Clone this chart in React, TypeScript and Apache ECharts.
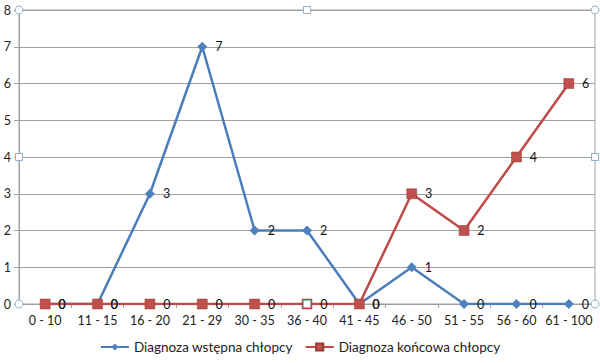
import React, { useEffect, useRef } from "react";
import * as echarts from "echarts";

const categories = ["0 - 10", "11 - 15", "16 - 20", "21 - 29", "30 - 35", "36 - 40", "41 - 45", "46 - 50", "51 - 55", "56 - 60", "61 - 100"];
const wstepna = [0, 0, 3, 7, 2, 2, 0, 1, 0, 0, 0];
const koncowa = [0, 0, 0, 0, 0, 0, 0, 3, 2, 4, 6];
const seriesNames = ["Diagnoza wstępna chłopcy", "Diagnoza końcowa chłopcy"];

const FONT = "Lato, 'Open Sans', sans-serif";

export default function App() {
  const ref = useRef<HTMLDivElement>(null);
  useEffect(() => {
    if (!ref.current) return;
    const chart = echarts.init(ref.current, null, { renderer: "svg" });
    const L = 19, R = 595, T = 10, B = 304;
    const handleStyle = { fill: "#fff", stroke: "#8fb2c4", lineWidth: 1 };
    const circ = (x: number, y: number) => ({ type: "circle", shape: { cx: x, cy: y, r: 4 }, style: handleStyle, z: 100 });
    const sq = (x: number, y: number) => ({ type: "rect", shape: { x: x - 3.5, y: y - 3.5, width: 7, height: 7 }, style: handleStyle, z: 100 });
    const mid = (L + R) / 2, midY = (T + B) / 2;
    chart.setOption({
      animation: false,
      textStyle: { fontFamily: FONT },
      grid: { left: L, right: 600 - R, top: T, bottom: 363 - B, show: true, borderColor: "#a0a0a0", borderWidth: 1, containLabel: false },
      legend: {
        bottom: 4,
        left: "center",
        itemGap: 12,
        itemWidth: 28,
        itemHeight: 9,
        textStyle: { fontSize: 13.5, color: "#222", fontFamily: FONT },
        data: seriesNames,
      },
      xAxis: {
        type: "category",
        data: categories,
        boundaryGap: true,
        axisLine: { lineStyle: { color: "#a0a0a0", width: 1 } },
        axisTick: { show: true, length: 4, lineStyle: { color: "#a0a0a0" } },
        axisLabel: { color: "#222", fontSize: 12.5, margin: 10, interval: 0, fontFamily: FONT },
      },
      yAxis: {
        type: "value",
        min: 0,
        max: 8,
        interval: 1,
        axisLine: { show: true, lineStyle: { color: "#a0a0a0" } },
        axisTick: { show: true, length: 5, lineStyle: { color: "#a0a0a0" } },
        axisLabel: { color: "#222", fontSize: 12.5, margin: 8, fontFamily: FONT },
        splitLine: { lineStyle: { color: "#a0a0a0", width: 1 } },
      },
      series: [
        {
          name: seriesNames[0],
          type: "line",
          data: wstepna,
          symbol: "diamond",
          symbolSize: 10,
          lineStyle: { color: "#4a7ebb", width: 2.5 },
          itemStyle: { color: "#4f81bd" },
          label: { show: true, position: "right", distance: 8, color: "#111", fontSize: 12.5, fontFamily: FONT },
          z: 2,
        },
        {
          name: seriesNames[1],
          type: "line",
          data: koncowa,
          symbol: "rect",
          symbolSize: 10,
          lineStyle: { color: "#be4b48", width: 2.5 },
          itemStyle: { color: "#c0504d", borderColor: "#9c3a37", borderWidth: 0.5 },
          label: { show: true, position: "right", distance: 8, color: "#111", fontSize: 12.5, fontFamily: FONT },
          z: 3,
        },
      ],
      graphic: [
        circ(L, T), circ(R, T), circ(L, B), circ(R, B),
        sq(mid, T), sq(mid, B), sq(L, midY), sq(R, midY),
      ],
    });
    return () => chart.dispose();
  }, []);
  return <div ref={ref} style={{ width: 600, height: 363, position: "absolute", left: 0, top: 0, background: "#fff" }} />;
}
